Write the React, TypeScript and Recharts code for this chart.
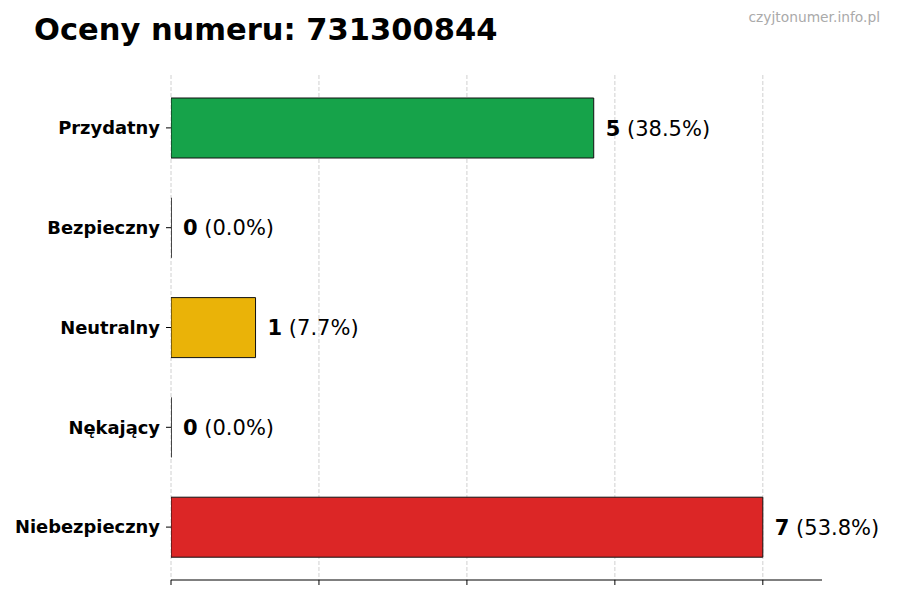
import React from 'react';
import { BarChart, Bar, XAxis, YAxis, CartesianGrid, LabelList, Cell } from 'recharts';

const categories = ['Przydatny', 'Bezpieczny', 'Neutralny', 'Nękający', 'Niebezpieczny'];
const counts = [5, 0, 1, 0, 7];
const percents = ['38.5%', '0.0%', '7.7%', '0.0%', '53.8%'];
const colors = ['#16a34a', '#94a3b8', '#eab308', '#f97316', '#dc2626'];
const xTicks = [0, 1.75, 3.5, 5.25, 7];
const xMax = 7.7;
const title = 'Oceny numeru: 731300844';
const watermark = 'czyjtonumer.info.pl';

const data = categories.map((name, i) => ({ name, value: counts[i], pct: percents[i], color: colors[i] }));

const FONT = '"DejaVu Sans", sans-serif';

const BarShape = (props: any) => {
  const { x, y, width, height, fill } = props;
  const w = Math.max(0, width || 0);
  const d = `M${x},${y} h${w} v${height} h${-w} Z`;
  return <path d={d} fill={fill} stroke="#111" strokeWidth={1} />;
};

const ValueLabel = (props: any) => {
  const { x, y, width, height, index } = props;
  const tx = x + (width || 0) + 12;
  const ty = y + height / 2;
  return (
    <text x={tx} y={ty} dy="0.36em" fontFamily={FONT} fontSize={21} fill="#000">
      <tspan fontWeight="bold">{counts[index]}</tspan>
      <tspan> ({percents[index]})</tspan>
    </text>
  );
};

const gridGen = (props: any) => {
  const { xAxis, offset } = props;
  if (xAxis && typeof xAxis.scale === 'function') {
    return xTicks.map((t) => xAxis.scale(t));
  }
  return xTicks.map((t) => offset.left + (t / xMax) * offset.width);
};

export default function App() {
  return (
    <div style={{ position: 'absolute', left: 0, top: 0, width: 900, height: 600, background: '#fff' }}>
      <BarChart
        width={900}
        height={600}
        data={data}
        layout="vertical"
        margin={{ top: 75, right: 78, bottom: 0, left: 0 }}
        barCategoryGap={0}
      >
        <XAxis
          type="number"
          domain={[0, xMax]}
          ticks={xTicks}
          allowDataOverflow
          tickFormatter={() => ''}
          tickSize={5}
          height={20}
          axisLine={{ stroke: '#000', strokeWidth: 1 }}
          tickLine={{ stroke: '#000', strokeWidth: 1 }}
        />
        <YAxis
          type="category"
          dataKey="name"
          width={171}
          padding={{ top: 3, bottom: 3 }}
          axisLine={false}
          tickSize={5}
          tickMargin={6}
          tickLine={{ stroke: '#000', strokeWidth: 1 }}
          tick={{ fontFamily: FONT, fontSize: 17.9, fontWeight: 'bold', fill: '#000' }}
        />
        <Bar dataKey="value" barSize={60} isAnimationActive={false} shape={<BarShape />}>
          {data.map((d, i) => (
            <Cell key={i} fill={d.color} />
          ))}
          <LabelList dataKey="value" content={<ValueLabel />} />
        </Bar>
        <CartesianGrid
          horizontal={false}
          vertical
          verticalCoordinatesGenerator={gridGen}
          stroke="#d0d0d0"
          strokeWidth={1}
          strokeDasharray="4 2"
        />
      </BarChart>
      <svg width={900} height={600} style={{ position: 'absolute', left: 0, top: 0, pointerEvents: 'none' }}>
        <text x={34} y={40} fontFamily={FONT} fontSize={30.5} fontWeight="bold" fill="#000">{title}</text>
        <text x={880} y={22} textAnchor="end" fontFamily={FONT} fontSize={13.8} fill="#aaa">{watermark}</text>
      </svg>
    </div>
  );
}
